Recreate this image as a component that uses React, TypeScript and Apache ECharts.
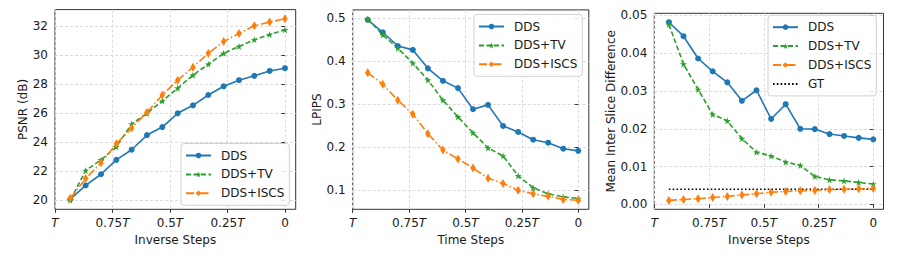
import React, { useEffect, useRef } from "react";
import * as echarts from "echarts";

// ---------- data ----------
const T = 1000;
// inverse steps: k/15 of T, from 14/15 T down to 0
const stepIndex = [14, 13, 12, 11, 10, 9, 8, 7, 6, 5, 4, 3, 2, 1, 0];
const xTickValues = [1000, 750, 500, 250, 0];

const psnrDDS = [20.05, 21.0, 21.77, 22.76, 23.46, 24.47, 25.02, 25.97, 26.52, 27.23, 27.83, 28.25, 28.55, 28.89, 29.08];
const psnrTV = [19.98, 22.03, 22.76, 23.66, 25.23, 25.97, 26.82, 27.7, 28.6, 29.35, 30.1, 30.58, 31.04, 31.4, 31.73];
const psnrISCS = [20.12, 21.47, 22.56, 23.87, 24.95, 26.04, 27.23, 28.25, 29.15, 30.1, 30.92, 31.47, 32.0, 32.26, 32.49];
const psnrTicks = [20, 22, 24, 26, 28, 30, 32];

const lpipsDDS = [0.496, 0.467, 0.435, 0.426, 0.383, 0.354, 0.337, 0.288, 0.298, 0.249, 0.235, 0.217, 0.21, 0.196, 0.191];
const lpipsTV = [0.498, 0.461, 0.43, 0.395, 0.356, 0.309, 0.27, 0.233, 0.198, 0.179, 0.133, 0.105, 0.091, 0.084, 0.08];
const lpipsISCS = [0.373, 0.346, 0.309, 0.276, 0.231, 0.193, 0.172, 0.151, 0.127, 0.115, 0.099, 0.091, 0.085, 0.078, 0.076];
const lpipsTicks = [0.1, 0.2, 0.3, 0.4, 0.5];

const misdDDS = [0.0482, 0.0445, 0.0386, 0.0352, 0.0323, 0.0274, 0.0302, 0.0226, 0.0265, 0.02, 0.0199, 0.0186, 0.0181, 0.0176, 0.0172];
const misdTV = [0.0476, 0.0371, 0.0304, 0.0238, 0.0221, 0.0174, 0.0138, 0.0128, 0.0112, 0.0103, 0.0074, 0.0065, 0.0062, 0.0058, 0.0054];
const misdISCS = [0.00105, 0.0013, 0.0015, 0.0018, 0.0021, 0.0025, 0.0028, 0.0032, 0.0034, 0.0036, 0.0037, 0.0039, 0.004, 0.0041, 0.0042];
const misdGT = [0.004, 0.004, 0.004, 0.004, 0.004, 0.004, 0.004, 0.004, 0.004, 0.004, 0.004, 0.004, 0.004, 0.004, 0.004];
const misdTicks = [0, 0.01, 0.02, 0.03, 0.04, 0.05];

const seriesNames = ["DDS", "DDS+TV", "DDS+ISCS"];

// ---------- styling ----------
const FONT = "DejaVu Sans";
const TXT = "#1a1a1a";
const BLUE = "#1f77b4";
const GREEN = "#2ca02c";
const ORANGE = "#ff7f0e";
const STAR =
  "path://M0,-1 L0.2245,-0.309 L0.951,-0.309 L0.363,0.118 L0.588,0.809 L0,0.382 L-0.588,0.809 L-0.363,0.118 L-0.951,-0.309 L-0.2245,-0.309 Z";
const THIN_DIAMOND = "path://M0,-1 L0.6,0 L0,1 L-0.6,0 Z";

const xs = stepIndex.map((k) => (k / 15) * T);
const pairs = (vals: number[]) => vals.map((v, i) => [xs[i], v]);

function padded(vals: number[]): [number, number] {
  const lo = Math.min(...vals);
  const hi = Math.max(...vals);
  const m = (hi - lo) * 0.05;
  return [lo - m, hi + m];
}

const grids = [
  { left: 55, top: 9.6, width: 240.7, height: 199.7 },
  { left: 352.7, top: 9.9, width: 236.1, height: 199.4 },
  { left: 654.3, top: 13.3, width: 229.2, height: 196 },
];

function xAxisFor(gridIndex: number, name: string) {
  return {
    type: "value",
    gridIndex,
    min: -0.05 * xs[0],
    max: T,
    inverse: true,
    name,
    nameLocation: "middle",
    nameGap: 25,
    nameTextStyle: { fontFamily: FONT, fontSize: 12, color: TXT },
    axisLine: { show: false },
    axisTick: { show: true, length: 3.5, customValues: xTickValues, lineStyle: { color: "#333", width: 1 } },
    axisLabel: {
      customValues: xTickValues,
      margin: 8,
      fontFamily: FONT,
      fontSize: 12,
      color: TXT,
      formatter: (v: number) => {
        if (v === T) return "{i|T}";
        if (v === 0) return "0";
        return `${v / T}{i|T}`;
      },
      rich: { i: { fontStyle: "italic", fontFamily: FONT, fontSize: 12, color: TXT } },
    },
    splitLine: { show: true, lineStyle: { color: "#dcdcdc", type: [3, 2], width: 1 } },
  };
}

function yAxisFor(gridIndex: number, name: string, range: [number, number], ticks: number[], digits: number, nameGap: number) {
  return {
    type: "value",
    gridIndex,
    min: range[0],
    max: range[1],
    name,
    nameLocation: "middle",
    nameGap,
    nameTextStyle: { fontFamily: FONT, fontSize: 12, color: TXT },
    axisLine: { show: false },
    axisTick: { show: true, length: 3.5, customValues: ticks, lineStyle: { color: "#333", width: 1 } },
    axisLabel: {
      customValues: ticks,
      margin: 7,
      fontFamily: FONT,
      fontSize: 12,
      color: TXT,
      formatter: (v: number) => v.toFixed(digits),
    },
    splitLine: { show: true, lineStyle: { color: "#dcdcdc", type: [3, 2], width: 1 } },
  };
}

function lineSeries(name: string, idx: number, vals: number[]) {
  const common = { type: "line", name, xAxisIndex: idx, yAxisIndex: idx, data: pairs(vals), z: 3 };
  if (name === "DDS") {
    return { ...common, color: BLUE, symbol: "circle", symbolSize: 6, lineStyle: { color: BLUE, width: 1.6, type: "solid" }, itemStyle: { color: BLUE } };
  }
  if (name === "DDS+TV") {
    return { ...common, color: GREEN, symbol: STAR, symbolSize: 7, lineStyle: { color: GREEN, width: 1.6, type: [5, 2.5] }, itemStyle: { color: GREEN } };
  }
  return { ...common, color: ORANGE, symbol: THIN_DIAMOND, symbolSize: [5.5, 9], lineStyle: { color: ORANGE, width: 1.6, type: [8, 2.5, 1.5, 2.5] }, itemStyle: { color: ORANGE } };
}

function legendAt(left: number, top: number, data: any[]) {
  return {
    orient: "vertical",
    left,
    top,
    padding: [5, 5, 5, 4],
    itemGap: 4.9,
    itemWidth: 25,
    itemHeight: 7,
    backgroundColor: "rgba(255,255,255,0.85)",
    borderColor: "#d0d0d0",
    borderWidth: 1,
    borderRadius: 3,
    selectedMode: false,
    textStyle: { fontFamily: FONT, fontSize: 12, color: TXT, lineHeight: 14, padding: [0, 0, 0, 5] },
    data,
  };
}

export default function App() {
  const ref = useRef<HTMLDivElement>(null);
  useEffect(() => {
    if (!ref.current) return;
    const chart = echarts.init(ref.current, undefined, { renderer: "svg" });
    const option = {
      animation: false,
      backgroundColor: "#ffffff",
      grid: grids.map((g) => ({ ...g, show: true, borderColor: "#333", borderWidth: 1, backgroundColor: "transparent", containLabel: false })),
      xAxis: [xAxisFor(0, "Inverse Steps"), xAxisFor(1, "Time Steps"), xAxisFor(2, "Inverse Steps")],
      yAxis: [
        yAxisFor(0, "PSNR (dB)", padded([...psnrDDS, ...psnrTV, ...psnrISCS]), psnrTicks, 0, 26),
        yAxisFor(1, "LPIPS", padded([...lpipsDDS, ...lpipsTV, ...lpipsISCS]), lpipsTicks, 1, 29),
        yAxisFor(2, "Mean Inter Slice Difference", padded([...misdDDS, ...misdTV, ...misdISCS, ...misdGT]), misdTicks, 2, 37),
      ],
      legend: [
        legendAt(181, 143.5, seriesNames),
        legendAt(474, 14.5, seriesNames),
        legendAt(768, 15.2, [...seriesNames, { name: "GT", itemStyle: { opacity: 0 } }]),
      ],
      series: [
        lineSeries("DDS", 0, psnrDDS),
        lineSeries("DDS+TV", 0, psnrTV),
        lineSeries("DDS+ISCS", 0, psnrISCS),
        lineSeries("DDS", 1, lpipsDDS),
        lineSeries("DDS+TV", 1, lpipsTV),
        lineSeries("DDS+ISCS", 1, lpipsISCS),
        lineSeries("DDS", 2, misdDDS),
        lineSeries("DDS+TV", 2, misdTV),
        lineSeries("DDS+ISCS", 2, misdISCS),
        {
          type: "line",
          name: "GT",
          xAxisIndex: 2,
          yAxisIndex: 2,
          data: pairs(misdGT),
          symbol: "none",
          color: "#000",
          lineStyle: { color: "#000", width: 1.6, type: [1.6, 2.2] },
          z: 2,
        },
      ],
    };
    chart.setOption(option as any);
    return () => chart.dispose();
  }, []);
  return (
    <div
      ref={ref}
      style={{ position: "absolute", left: 0, top: 0, width: 897, height: 256, background: "#fff" }}
    />
  );
}
